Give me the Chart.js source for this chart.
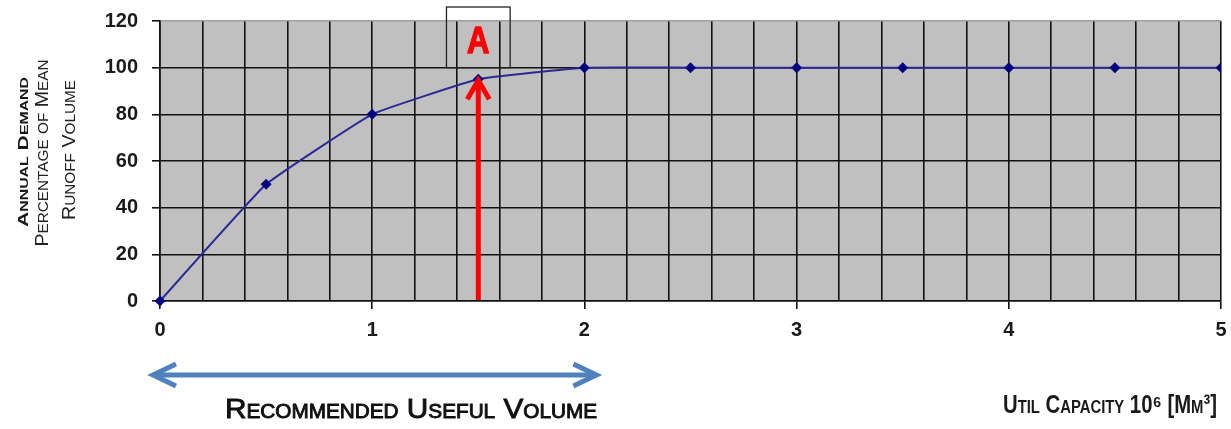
<!DOCTYPE html>
<html>
<head>
<meta charset="utf-8">
<script src="https://cdn.jsdelivr.net/npm/chart.js@4.4.1/dist/chart.umd.min.js"></script>
<style>
  html, body { margin: 0; padding: 0; background: #fff; }
  #wrap { width: 1231px; height: 429px; position: relative; }
</style>
</head>
<body>
<div id="wrap"><canvas id="runoffChart"></canvas></div>
<script>
// data
const capacity = [0, 0.5, 1, 1.5, 2, 2.5, 3, 3.5, 4, 4.5, 5];
const demandPct = [0, 50, 80, 95, 100, 100, 100, 100, 100, 100, 100];
const xRange = [0, 5];
const yRange = [0, 120];
const markerCapacity = 1.5;      // point "A"
const usefulVolume = [0, 2];     // recommended useful volume span

const SANS = "'Liberation Sans', Arial, sans-serif";
const isInt = v => Math.abs(v - Math.round(v)) < 1e-6;

// small caps: lowercase letters drawn as smaller capitals
function smallCaps(ctx, text, x, y, o) {
  const runs = [];
  for (const ch of text) {
    const small = ch !== ch.toUpperCase();
    const last = runs[runs.length - 1];
    if (last && last.small === small) last.t += small ? ch.toUpperCase() : ch;
    else runs.push({ small, t: small ? ch.toUpperCase() : ch });
  }
  let total = 0;
  runs.forEach(r => {
    ctx.font = `${o.weight || 'normal'} ${r.small ? o.small : o.big}px ${o.family}`;
    r.w = ctx.measureText(r.t).width;
    total += r.w;
  });
  const sx = o.width ? o.width / total : 1;
  ctx.save();
  ctx.translate(x, y);
  if (o.rotate) ctx.rotate(o.rotate);
  ctx.scale(sx, 1);
  ctx.fillStyle = o.color || '#1a1a1a';
  ctx.strokeStyle = o.color || '#1a1a1a';
  ctx.lineWidth = o.stroke || 0;
  ctx.textBaseline = 'alphabetic';
  ctx.textAlign = 'left';
  let cx = -total / 2;
  runs.forEach(r => {
    ctx.font = `${o.weight || 'normal'} ${r.small ? o.small : o.big}px ${o.family}`;
    ctx.fillText(r.t, cx, 0);
    if (o.stroke) ctx.strokeText(r.t, cx, 0);
    cx += r.w;
  });
  ctx.restore();
}

function chevron(ctx, tipX, tipY, dx, dy, arm, spread) {
  // open arrow head pointing in direction (dx, dy)
  const len = Math.hypot(dx, dy);
  const ux = dx / len, uy = dy / len;
  ctx.beginPath();
  ctx.moveTo(tipX - ux * arm - uy * spread, tipY - uy * arm + ux * spread);
  ctx.lineTo(tipX, tipY);
  ctx.lineTo(tipX - ux * arm + uy * spread, tipY - uy * arm - ux * spread);
  ctx.stroke();
}

const decorations = {
  id: 'decorations',
  beforeDraw(chart) {
    const { ctx, chartArea: a } = chart;
    ctx.save();
    ctx.fillStyle = '#c0c0c0';
    ctx.fillRect(a.left, a.top, a.right - a.left, a.bottom - a.top);
    ctx.restore();
  },
  afterDatasetsDraw(chart) {
    const { ctx, chartArea: a, scales: { x, y } } = chart;
    ctx.save();

    // red arrow up to point A
    const ax = x.getPixelForValue(markerCapacity);
    const tipY = y.getPixelForValue(demandPct[capacity.indexOf(markerCapacity)]);
    ctx.strokeStyle = '#ff0000';
    ctx.lineWidth = 5;
    ctx.lineCap = 'butt';
    ctx.beginPath();
    ctx.moveTo(ax, a.bottom - 1);
    ctx.lineTo(ax, tipY + 2);
    ctx.stroke();
    ctx.lineJoin = 'miter';
    chevron(ctx, ax, tipY + 1, 0, -1, 19, 11);

    // box with label A
    const bx0 = x.getPixelForValue(markerCapacity - 0.15);
    const bx1 = x.getPixelForValue(markerCapacity + 0.15);
    const by1 = y.getPixelForValue(100);
    const by0 = a.top - 14;
    ctx.strokeStyle = '#222';
    ctx.lineWidth = 1.3;
    ctx.strokeRect(bx0, by0, bx1 - bx0, by1 - by0);
    ctx.save();
    ctx.translate((bx0 + bx1) / 2, by0 + 46);
    ctx.scale(0.86, 1);
    ctx.fillStyle = '#ff0000';
    ctx.strokeStyle = '#ff0000';
    ctx.lineWidth = 1.4;
    ctx.lineJoin = 'round';
    ctx.font = `bold 36px ${SANS}`;
    ctx.textAlign = 'center';
    ctx.textBaseline = 'alphabetic';
    ctx.fillText('A', 0, 0);
    ctx.strokeText('A', 0, 0);
    ctx.restore();

    // blue double arrow for the useful volume
    const uy = a.bottom + 74;
    const ux0 = x.getPixelForValue(usefulVolume[0]) - 7;
    const ux1 = x.getPixelForValue(usefulVolume[1]) + 12;
    ctx.strokeStyle = '#4f81bd';
    ctx.lineWidth = 5;
    ctx.beginPath();
    ctx.moveTo(ux0 + 2, uy);
    ctx.lineTo(ux1 - 2, uy);
    ctx.stroke();
    chevron(ctx, ux0, uy, -1, 0, 23, 11);
    chevron(ctx, ux1, uy, 1, 0, 23, 11);
    ctx.restore();
  },
  afterDraw(chart) {
    const { ctx } = chart;
    smallCaps(ctx, 'Recommended Useful Volume', 411, 418,
      { big: 28, small: 19.5, family: SANS, width: 372, color: '#111', stroke: 0.9 });
    smallCaps(ctx, 'Util Capacity 10\u2076 [Mm\u00b3]', 1110, 413,
      { big: 26, small: 19, weight: 'bold', family: SANS, width: 214, color: '#1a1a1a' });
    smallCaps(ctx, 'Annual Demand', 28, 152,
      { big: 14, small: 10.5, weight: 'bold', family: SANS, width: 150, rotate: -Math.PI / 2 });
    smallCaps(ctx, 'Percentage of Mean', 48, 153,
      { big: 18, small: 14, family: SANS, width: 187, rotate: -Math.PI / 2, color: '#222' });
    smallCaps(ctx, 'Runoff Volume', 75, 150,
      { big: 18, small: 14, family: SANS, width: 140, rotate: -Math.PI / 2, color: '#222' });
  }
};

const ctx = document.getElementById('runoffChart').getContext('2d');
new Chart(ctx, {
  type: 'line',
  data: {
    datasets: [{
      data: capacity.map((c, i) => ({ x: c, y: demandPct[i] })),
      borderColor: '#2a2a96',
      borderWidth: 2,
      pointStyle: 'rectRot',
      pointRadius: 5.5,
      pointBackgroundColor: '#000080',
      pointBorderColor: '#000080',
      pointBorderWidth: 0,
      tension: 0.1,
      clip: { left: 10, bottom: 10, top: 0, right: 0 }
    }]
  },
  options: {
    responsive: true,
    maintainAspectRatio: false,
    animation: false,
    events: [],
    layout: { padding: { top: 21, right: 10, left: 0, bottom: 0 } },
    plugins: { legend: { display: false }, tooltip: { enabled: false } },
    scales: {
      x: {
        type: 'linear',
        min: xRange[0],
        max: xRange[1],
        afterFit: s => { s.height = 128; s.paddingLeft = 0; s.paddingRight = 0; },
        ticks: {
          stepSize: 0.2,
          maxTicksLimit: 100,
          autoSkip: false,
          maxRotation: 0,
          padding: 9,
          color: '#1a1a1a',
          font: { family: SANS, size: 20, weight: 'bold' },
          callback: v => isInt(v) ? String(Math.round(v)) : ''
        },
        grid: {
          color: '#111',
          lineWidth: 1.6,
          tickLength: 8,
          tickColor: c => (c.tick && isInt(c.tick.value)) ? '#111' : 'rgba(0,0,0,0)'
        },
        border: { display: true, color: '#111', width: 1.6 }
      },
      y: {
        min: yRange[0],
        max: yRange[1],
        afterFit: s => { s.width = 160; s.paddingTop = 0; s.paddingBottom = 0; },
        ticks: {
          stepSize: 20,
          padding: 14,
          color: '#1a1a1a',
          font: { family: SANS, size: 20, weight: 'bold' }
        },
        grid: {
          color: c => (c.tick && c.tick.value === yRange[1]) ? '#a0a0a0' : '#111',
          lineWidth: 1.6,
          tickLength: 8,
          tickColor: '#111'
        },
        border: { display: true, color: '#111', width: 1.6 }
      }
    }
  },
  plugins: [decorations]
});
</script>
</body>
</html>
